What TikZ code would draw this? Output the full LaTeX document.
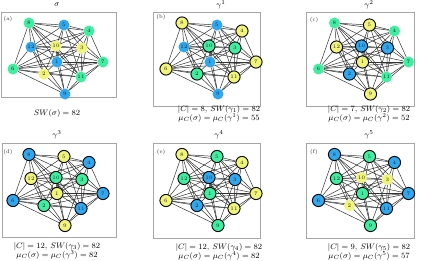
\documentclass[tikz,border=0pt]{standalone}
\pgfdeclarelayer{bg}
\pgfdeclarelayer{paper}
\pgfsetlayers{paper,bg,main}
\definecolor{cgreen}{HTML}{40EEA0}
\definecolor{cblue}{HTML}{30A8F0}
\definecolor{cyellow}{HTML}{F0F478}
\tikzset{
  gnode/.style={circle, inner sep=0pt, minimum size=11pt, text=black!85, font=\fontsize{5.2}{6}\selectfont},
  gP/.style={gnode, fill=cgreen},
  bP/.style={gnode, fill=cblue},
  yP/.style={gnode, fill=cyellow},
  gB/.style={gnode, fill=cgreen, draw=black, line width=0.9pt, minimum size=12.2pt},
  bB/.style={gnode, fill=cblue, draw=black, line width=0.9pt, minimum size=12.2pt},
  yB/.style={gnode, fill=cyellow, draw=black, line width=0.9pt, minimum size=12.2pt},
  gedge/.style={line width=0.5pt, black!80},
  panelbox/.style={draw=black!35, line width=0.7pt},
  lab/.style={font=\fontsize{8.4}{9}\selectfont, inner sep=0pt},
  plab/.style={font=\fontsize{5.5}{6}\selectfont, inner sep=0pt, text=black!80}
}
\newcommand\drawgraph[4]{%
  \foreach \n/\x/\y in {8/29/23,4/89/31,7/103/62,6/13/69,11/81/77}{\node[#2] (#1\n) at (\x,\y) {\n};}
  \foreach \n/\x/\y in {5/64/25,12/31/47,1/57/62,9/65/94}{\node[#3] (#1\n) at (\x,\y) {\n};}
  \foreach \n/\x/\y in {10/56/46,3/82/48,2/44/74}{\node[#4] (#1\n) at (\x,\y) {\n};}
  \begin{pgfonlayer}{bg}
  \foreach \u/\v in {8/5,8/4,8/12,8/10,8/1,8/2,8/6,8/3,8/11,
      5/4,5/12,5/10,5/3,5/1,5/11,5/7,
      4/12,4/10,4/3,4/7,4/1,4/11,
      12/10,12/3,12/1,12/6,12/2,12/9,12/7,
      10/3,10/1,10/2,10/6,10/11,10/9,
      3/1,3/7,3/11,3/6,3/9,
      1/7,1/6,1/2,1/11,1/9,
      7/11,7/6,7/2,7/9,
      6/2,6/9,6/11,
      2/11,2/9,
      11/9}{\draw[gedge] (#1\u) -- (#1\v);}
  \end{pgfonlayer}
}
\begin{document}
\begin{tikzpicture}[x=1pt,y=-1pt]
\useasboundingbox (0,0) rectangle (423,260);
\begin{pgfonlayer}{paper}
\fill[white] (0,0) rectangle (423,260);
\end{pgfonlayer}
% boxes
\draw[panelbox] (1,12) rectangle (116,97);
\draw[panelbox] (153,12) rectangle (260,106);
\draw[panelbox] (306,12) rectangle (414,106);
\draw[panelbox] (2,143) rectangle (116,237);
\draw[panelbox] (153,143) rectangle (260,238);
\draw[panelbox] (306,143) rectangle (414,238);
% graphs
\begin{scope}[shift={(0,0)}]\drawgraph{a}{gP}{bP}{yP}\end{scope}
\begin{scope}[shift={(153,0)}]\drawgraph{b}{yB}{bP}{gB}\end{scope}
\begin{scope}[shift={(305.5,0)}]\drawgraph{c}{gP}{yB}{bB}\end{scope}
\begin{scope}[shift={(0,131.5)}]\drawgraph{d}{bB}{yB}{gB}\end{scope}
\begin{scope}[shift={(153,131.5)}]\drawgraph{e}{yB}{gB}{bB}\end{scope}
\begin{scope}[shift={(305.5,131.5)}]\drawgraph{f}{bB}{gB}{yP}\end{scope}
% panel letters
\node[plab] (la) at (8,19) {(a)};
\node[plab] (lb) at (161,17) {(b)};
\node[plab] (lc) at (314,20) {(c)};
\node[plab] (ld) at (8,152) {(d)};
\node[plab] (le) at (161,152) {(e)};
\node[plab] (lf) at (314,152) {(f)};
% titles
\node[lab] (ta) at (57,5) {$\sigma$};
\node[lab] (tb) at (221,5) {$\gamma^1$};
\node[lab] (tc) at (369,5) {$\gamma^2$};
\node[lab] (td) at (57,135) {$\gamma^3$};
\node[lab] (te) at (219,135) {$\gamma^4$};
\node[lab] (tf) at (369,135) {$\gamma^5$};
% captions
\node[lab] (ca) at (57,113) {$SW(\sigma) = 82$};
\node[lab] (cb1) at (219,109) {$|C| = 8$, $SW(\gamma_1) = 82$};
\node[lab] (cb2) at (219,118) {$\mu_C(\sigma) = \mu_C(\gamma^1) = 55$};
\node[lab] (cc1) at (369,109) {$|C| = 7$, $SW(\gamma_2) = 82$};
\node[lab] (cc2) at (369,118) {$\mu_C(\sigma) = \mu_C(\gamma^2) = 52$};
\node[lab] (cd1) at (57,246) {$|C| = 12$, $SW(\gamma_3) = 82$};
\node[lab] (cd2) at (57,255) {$\mu_C(\sigma) = \mu_C(\gamma^3) = 82$};
\node[lab] (ce1) at (219,247) {$|C| = 12$, $SW(\gamma_4) = 82$};
\node[lab] (ce2) at (219,256) {$\mu_C(\sigma) = \mu_C(\gamma^4) = 82$};
\node[lab] (cf1) at (369,247) {$|C| = 9$, $SW(\gamma_5) = 82$};
\node[lab] (cf2) at (369,256) {$\mu_C(\sigma) = \mu_C(\gamma^5) = 57$};
\end{tikzpicture}
\end{document}
